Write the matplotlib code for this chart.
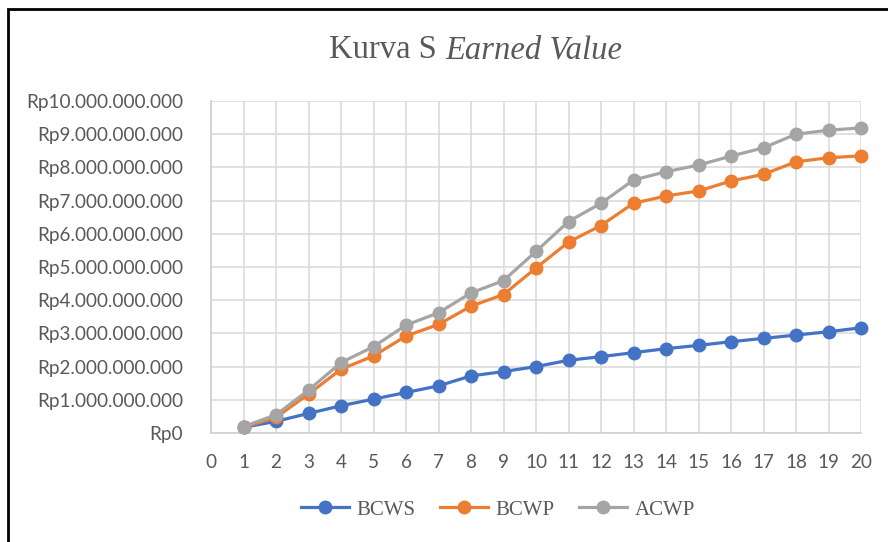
import numpy as np
import matplotlib
matplotlib.use('Agg')
import matplotlib.pyplot as plt
from matplotlib.patches import Rectangle
from matplotlib.ticker import FuncFormatter

# data (Rupiah)
weeks = list(range(1, 21))
bcws = [0.17, 0.35, 0.59, 0.82, 1.02, 1.22, 1.42, 1.72, 1.85, 2.00,
        2.19, 2.30, 2.42, 2.54, 2.64, 2.75, 2.85, 2.95, 3.05, 3.17]
bcwp = [0.17, 0.47, 1.17, 1.92, 2.32, 2.92, 3.27, 3.82, 4.17, 4.97,
        5.75, 6.25, 6.92, 7.14, 7.29, 7.59, 7.79, 8.17, 8.29, 8.35]
acwp = [0.19, 0.55, 1.29, 2.12, 2.60, 3.25, 3.62, 4.22, 4.59, 5.47,
        6.37, 6.92, 7.62, 7.87, 8.07, 8.34, 8.59, 9.00, 9.12, 9.19]
series = [('BCWS', bcws, '#4472C4'), ('BCWP', bcwp, '#ED7D31'), ('ACWP', acwp, '#A5A5A5')]
x_ticks = list(range(0, 21))
y_ticks = [i * 1e9 for i in range(0, 11)]

TXT = '#595959'


def rupiah(v, pos):
    n = int(round(v))
    return 'Rp' + f'{n:,}'.replace(',', '.')


fig = plt.figure(figsize=(8.88, 5.42), dpi=100)
ax = fig.add_axes([211 / 888, 1 - 433 / 542, 650 / 888, 332 / 542])

for name, vals, col in series:
    ax.plot(weeks, np.array(vals) * 1e9, color=col, lw=2.3, marker='o', ms=9,
            label=name, clip_on=False, zorder=3)

ax.set_xlim(0, 20)
ax.set_ylim(0, 1e10)
ax.set_xticks(x_ticks)
ax.set_yticks(y_ticks)
ax.yaxis.set_major_formatter(FuncFormatter(rupiah))
ax.grid(True, color='#D9D9D9', lw=1.1)
ax.set_axisbelow(True)
for s in ['top', 'right']:
    ax.spines[s].set_visible(False)
for s in ['left', 'bottom']:
    ax.spines[s].set_color('#D0D0D0')
    ax.spines[s].set_linewidth(1.2)
ax.tick_params(length=0, labelcolor=TXT, labelsize=13.6, pad=20)
ax.tick_params(axis='x', pad=15)
for lab in ax.get_xticklabels() + ax.get_yticklabels():
    lab.set_fontfamily('Lato')

# title: upright part + italic part
fig.text(445 / 888, 1 - 50 / 542, 'Kurva S ', ha='right', va='center',
         fontsize=23.5, family='Liberation Serif', color=TXT)
fig.text(445 / 888, 1 - 50 / 542, 'Earned Value', ha='left', va='center',
         fontsize=23.5, family='Liberation Serif', style='italic', color=TXT)

leg = fig.legend(loc='center', bbox_to_anchor=(498 / 888, 1 - 510 / 542), ncol=3,
                 frameon=False, handlelength=2.3, columnspacing=1.2, handletextpad=0.35,
                 prop={'family': 'Liberation Serif', 'size': 15})
for t in leg.get_texts():
    t.set_color(TXT)

fig.patches.append(Rectangle((8 / 888, -0.1), 1.2, 1 - 9 / 542 + 0.1, transform=fig.transFigure,
                             fill=False, edgecolor='black', lw=2))

fig.savefig('out.png', dpi=100)
